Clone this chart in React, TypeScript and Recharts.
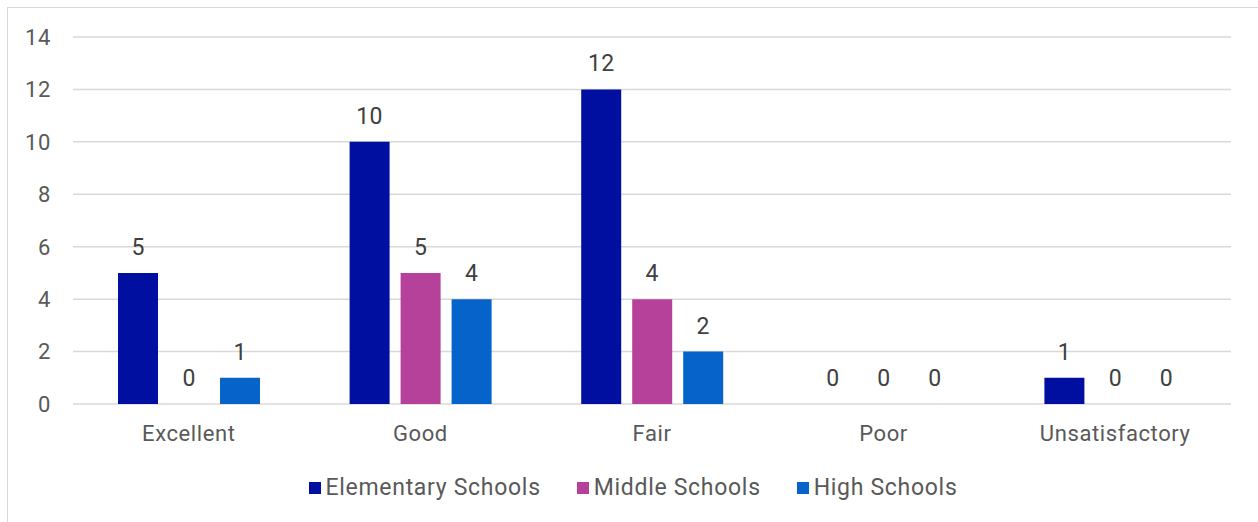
import React from 'react';
import { BarChart, Bar, XAxis, YAxis, CartesianGrid, Legend, LabelList } from 'recharts';

const categories = ['Excellent', 'Good', 'Fair', 'Poor', 'Unsatisfactory'];
const elementary = [5, 10, 12, 0, 1];
const middle = [0, 5, 4, 0, 0];
const high = [1, 4, 2, 0, 0];
const yTicks = [0, 2, 4, 6, 8, 10, 12, 14];

const seriesNames = ['Elementary Schools', 'Middle Schools', 'High Schools'];
const colors = ['#000F9F', '#B5419A', '#0563C9'];

const data = categories.map((c, i) => ({
  name: c,
  elementary: elementary[i],
  middle: middle[i],
  high: high[i],
}));

const FONT = 'Roboto, "Noto Sans", sans-serif';

const renderLegend = (props: any) => {
  const payload = [...(props.payload || [])].sort(
    (a: any, b: any) => seriesNames.indexOf(a.value) - seriesNames.indexOf(b.value)
  );
  return (
    <div style={{ display: 'flex', justifyContent: 'center', gap: 36, fontFamily: FONT, fontSize: 23, letterSpacing: 0.7, color: '#595959', paddingLeft: 8 }}>
      {payload.map((p: any) => (
        <div key={p.value} style={{ display: 'flex', alignItems: 'center' }}>
          <span style={{ display: 'inline-block', width: 12, height: 12, background: p.color, marginRight: 5 }} />
          <span>{p.value}</span>
        </div>
      ))}
    </div>
  );
};

const tickStyle = { fill: '#595959', fontSize: 22, fontFamily: FONT, letterSpacing: 0.6 };
const labelProps = { position: 'top' as const, offset: 18, fill: '#404040', fontSize: 23, fontFamily: FONT, letterSpacing: 0.3 };

export default function App() {
  return (
    <div style={{ position: 'fixed', left: 0, top: 0, width: 1258, height: 522, overflow: 'hidden', background: '#fff' }}>
      <div style={{ position: 'absolute', left: 7, top: 7, width: 1400, height: 700, border: '1px solid #d9d9d9' }} />
      <div style={{ position: 'absolute', left: 0, top: 0 }}>
        <BarChart
          width={1258}
          height={522}
          data={data}
          margin={{ top: 37, right: 27, bottom: 88, left: 0 }}
          barSize={40}
          barGap={11}
        >
          <CartesianGrid vertical={false} stroke="#d9d9d9" strokeWidth={1.5} />
          <XAxis
            dataKey="name"
            axisLine={false}
            tickLine={false}
            height={30}
            tickMargin={15}
            tick={tickStyle}
          />
          <YAxis
            domain={[0, 14]}
            ticks={yTicks}
            axisLine={false}
            tickLine={false}
            width={73}
            tickMargin={16}
            tick={tickStyle}
          />
          <Legend
            verticalAlign="middle"
            align="center"
            layout="horizontal"
            wrapperStyle={{ top: 474, left: 0, width: 1258 }}
            content={renderLegend}
          />
          <Bar dataKey="elementary" name={seriesNames[0]} fill={colors[0]} minPointSize={0.01} isAnimationActive={false}>
            <LabelList dataKey="elementary" {...labelProps} />
          </Bar>
          <Bar dataKey="middle" name={seriesNames[1]} fill={colors[1]} minPointSize={0.01} isAnimationActive={false}>
            <LabelList dataKey="middle" {...labelProps} />
          </Bar>
          <Bar dataKey="high" name={seriesNames[2]} fill={colors[2]} minPointSize={0.01} isAnimationActive={false}>
            <LabelList dataKey="high" {...labelProps} />
          </Bar>
        </BarChart>
      </div>
    </div>
  );
}
